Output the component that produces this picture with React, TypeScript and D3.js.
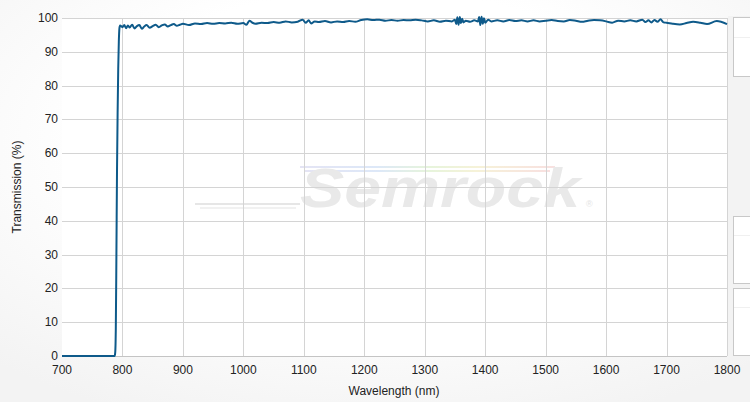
import React from "react";
import * as d3 from "d3";

const wavelengths: number[] = [
  700, 787, 788, 789, 790, 791, 792, 793, 794, 795, 796, 800, 803, 806, 809, 812, 816, 820, 824, 828,
  832, 836, 840, 845, 850, 855, 860, 865, 870, 875, 880, 885, 890, 895, 900, 910, 920, 930, 940, 950,
  960, 970, 980, 990, 1000, 1005, 1010, 1015, 1020, 1030, 1040, 1050, 1060, 1070, 1080, 1090, 1098, 1103, 1108, 1112,
  1118, 1125, 1135, 1145, 1155, 1165, 1175, 1185, 1195, 1205, 1215, 1225, 1235, 1245, 1255, 1265, 1275, 1285, 1295, 1305,
  1315, 1325, 1335, 1345, 1350, 1352, 1354, 1356, 1358, 1360, 1362, 1364, 1368, 1375, 1382, 1388, 1390, 1392, 1394, 1396,
  1398, 1400, 1405, 1410, 1420, 1430, 1440, 1450, 1460, 1470, 1480, 1490, 1500, 1510, 1520, 1530, 1540, 1550, 1560, 1570,
  1580, 1590, 1600, 1610, 1620, 1630, 1640, 1650, 1660, 1665, 1670, 1675, 1680, 1685, 1690, 1695, 1700, 1710, 1722, 1733,
  1744, 1756, 1767, 1783, 1800,
];

const transmission: number[] = [
  0, 0, 1, 8, 30, 55, 72, 85, 93, 97, 97.8, 97.3, 97.9, 97.0, 97.8, 97.2, 98.0, 96.9, 97.6, 97.9,
  96.8, 97.5, 97.9, 97.1, 97.6, 98.0, 97.3, 97.8, 98.1, 97.5, 97.9, 98.2, 97.7, 98.0, 98.3, 97.9, 98.4, 98.2, 98.5, 98.3,
  98.5, 98.4, 98.6, 98.3, 98.5, 98.0, 99.2, 98.6, 98.3, 98.6, 98.5, 98.8, 98.6, 99.0, 98.7, 98.9, 99.5, 98.6, 99.3, 98.4,
  99.0, 98.8, 99.1, 98.7, 99.0, 98.8, 99.1, 98.9, 99.4, 99.6, 99.4, 99.5, 99.2, 99.4, 99.2, 99.4, 99.3, 99.5, 99.3, 99.0,
  99.3, 98.9, 99.2, 99.0, 99.5, 98.2, 100.2, 98.0, 100.3, 98.5, 99.8, 98.7, 99.2, 98.9, 99.3, 99.0, 100.3, 97.9, 100.4, 98.3,
  99.9, 98.6, 99.5, 99.0, 99.3, 99.0, 99.4, 99.1, 99.3, 99.0, 99.3, 99.0, 99.2, 99.4, 99.1, 99.0, 99.4, 99.2, 98.9, 99.2,
  99.4, 99.3, 99.0, 98.6, 99.2, 99.0, 99.3, 99.0, 99.5, 98.8, 99.3, 98.7, 99.4, 98.9, 99.6, 98.7, 98.6, 98.3, 98.1, 98.5,
  98.9, 98.6, 98.2, 99.1, 98.2,
];

const xTicks: number[] = [700, 800, 900, 1000, 1100, 1200, 1300, 1400, 1500, 1600, 1700, 1800];
const yTicks: number[] = [0, 10, 20, 30, 40, 50, 60, 70, 80, 90, 100];

const W = 750;
const H = 402;
const M = { left: 62, right: 727, top: 18, bottom: 356 };
const FONT = "'Liberation Sans', Arial, sans-serif";

export default function App() {
  const x = d3.scaleLinear().domain([700, 1800]).range([M.left, M.right]);
  const y = d3.scaleLinear().domain([0, 100]).range([M.bottom, M.top]);
  const data = wavelengths.map((w, i) => [w, transmission[i]] as [number, number]);
  const line = d3
    .line<[number, number]>()
    .x((d) => x(d[0]))
    .y((d) => y(d[1]))
    .curve(d3.curveMonotoneX);

  return (
    <svg
      width={W}
      height={H}
      style={{ position: "absolute", left: 0, top: 0, display: "block" }}
      fontFamily={FONT}
    >
      <defs>
        <radialGradient id="bg" cx="0.5" cy="0.35" r="0.75">
          <stop offset="0.5" stopColor="#ffffff" />
          <stop offset="1" stopColor="#f3f3f3" />
        </radialGradient>
        <linearGradient id="rainbow" x1="0" x2="1" y1="0" y2="0">
          <stop offset="0" stopColor="#e4e4f4" />
          <stop offset="0.3" stopColor="#dde8f8" />
          <stop offset="0.5" stopColor="#e6f4dc" />
          <stop offset="0.7" stopColor="#f6f2d8" />
          <stop offset="1" stopColor="#f8e0e0" />
        </linearGradient>
      </defs>
      <rect x={0} y={0} width={W} height={H} fill="url(#bg)" />
      {/* right side panels */}
      <rect x={728} y={16} width={22} height={344} fill="#f3f3f3" />
      <rect x={733.5} y={17.5} width={20} height={59} fill="#fff" stroke="#c8c8c8" />
      <line x1={734} x2={750} y1={37.5} y2={37.5} stroke="#f0f0f0" />
      <rect x={733.5} y={216.5} width={20} height={67} fill="#fff" stroke="#c8c8c8" />
      <line x1={734} x2={750} y1={235.5} y2={235.5} stroke="#f0f0f0" />
      <rect x={733.5} y={288.5} width={20} height={67} fill="#fff" stroke="#c8c8c8" />
      <line x1={734} x2={750} y1={307.5} y2={307.5} stroke="#f0f0f0" />

      {/* plot area */}
      <rect x={M.left} y={M.top} width={M.right - M.left} height={M.bottom - M.top} fill="#fff" />

      {/* watermark */}
      <g>
        <rect x={300} y={166} width={255} height={2} fill="url(#rainbow)" />
        <rect x={305} y={170} width={245} height={2} fill="url(#rainbow)" />
        <path d="M195,204 L300,204" stroke="#e6e6e6" strokeWidth={2} />
        <path d="M200,208 L296,208" stroke="#ececec" strokeWidth={1.5} />
        <text
          x={300}
          y={207}
          fontSize={56}
          fontStyle="italic"
          fontWeight="bold"
          fill="#e9e9e9"
          fontFamily={FONT}
          textLength={280}
          lengthAdjust="spacingAndGlyphs"
        >
          Semrock
        </text>
        <text x={586} y={207} fontSize={9} fill="#e4e4e4">®</text>
      </g>

      {/* grid */}
      {yTicks.map((t) => (
        <line key={"gy" + t} x1={M.left} x2={M.right} y1={Math.round(y(t)) + 0.5} y2={Math.round(y(t)) + 0.5} stroke="#d4d4d4" />
      ))}
      {xTicks.slice(1).map((t) => (
        <line key={"gx" + t} x1={Math.round(x(t)) + 0.5} x2={Math.round(x(t)) + 0.5} y1={M.top} y2={M.bottom} stroke="#d4d4d4" />
      ))}
      <line x1={M.left} x2={M.right} y1={M.bottom + 0.5} y2={M.bottom + 0.5} stroke="#c4c4c4" />

      {/* data */}
      <path d={line(data) || ""} fill="none" stroke="#0e5a8a" strokeWidth={2} strokeLinejoin="round" />

      {/* tick labels */}
      {yTicks.map((t) => (
        <text key={"ty" + t} x={58} y={y(t) + 4} fontSize={12} textAnchor="end" fill="#222">
          {t}
        </text>
      ))}
      {xTicks.map((t) => (
        <text key={"tx" + t} x={x(t)} y={374} fontSize={12} textAnchor="middle" fill="#222">
          {t}
        </text>
      ))}
      <text x={394} y={395} fontSize={12} textAnchor="middle" fill="#222">
        Wavelength (nm)
      </text>
      <text
        transform={`translate(21,${(M.top + M.bottom) / 2}) rotate(-90)`}
        fontSize={12}
        textAnchor="middle"
        fill="#222"
      >
        Transmission (%)
      </text>
    </svg>
  );
}
